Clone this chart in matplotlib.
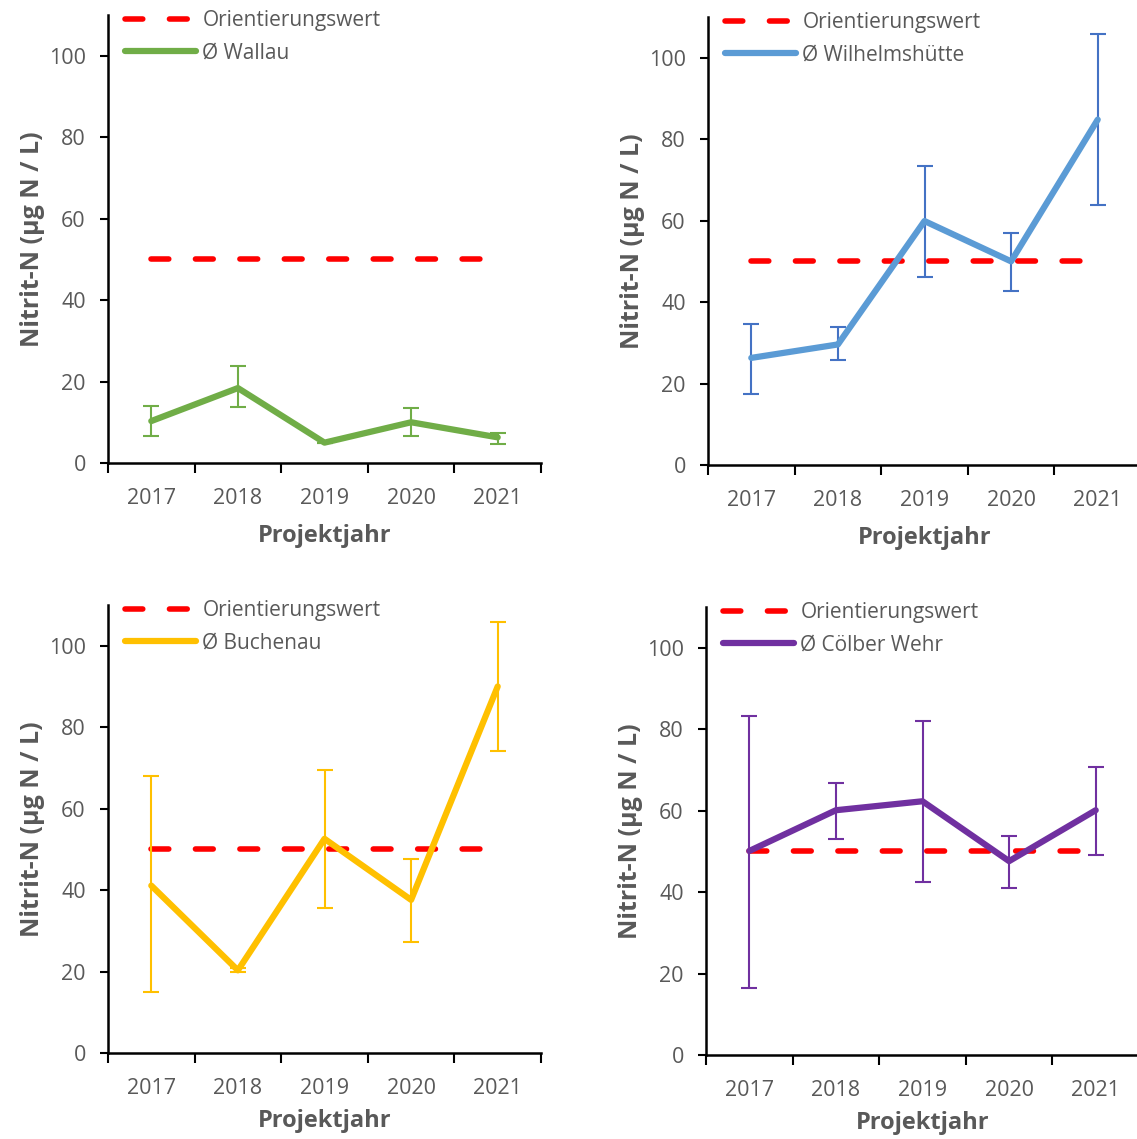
import numpy as np
import matplotlib.pyplot as plt

plt.rcParams['font.family'] = ['Open Sans', 'DejaVu Sans']

years = ['2017', '2018', '2019', '2020', '2021']
orientierungswert = 50

wallau = [10.3, 18.4, 5.0, 10.0, 6.3]
wallau_lo = [6.6, 13.8, 5.0, 6.6, 4.7]
wallau_hi = [14.0, 23.7, 5.0, 13.4, 7.4]

wilhelm = [26.3, 29.6, 59.9, 50.0, 84.8]
wilhelm_lo = [17.5, 25.7, 46.2, 42.8, 63.9]
wilhelm_hi = [34.6, 33.9, 73.4, 56.9, 105.9]

buchenau = [41.1, 20.3, 52.6, 37.6, 90.0]
buchenau_lo = [14.9, 19.8, 35.5, 27.2, 74.1]
buchenau_hi = [68.0, 20.8, 69.4, 47.7, 105.8]

coelbe = [50.1, 60.1, 62.3, 47.6, 60.1]
coelbe_lo = [16.5, 53.1, 42.5, 41.1, 49.2]
coelbe_hi = [83.3, 66.8, 82.0, 53.8, 70.7]

panels = [
    ('Ø Wallau', wallau, wallau_lo, wallau_hi, '#70AD47', '#70AD47', [108, 463]),
    ('Ø Wilhelmshütte', wilhelm, wilhelm_lo, wilhelm_hi, '#5B9BD5', '#4472C4', [708, 465]),
    ('Ø Buchenau', buchenau, buchenau_lo, buchenau_hi, '#FFC000', '#FFC000', [108, 1053]),
    ('Ø Cölber Wehr', coelbe, coelbe_lo, coelbe_hi, '#7030A0', '#7030A0', [706, 1055]),
]

W, H = 1137, 1139
grey = '#595959'
fig = plt.figure(figsize=(W / 100, H / 100), dpi=100)

for name, vals, lo, hi, col, ecol, (px, py) in panels:
    ax = fig.add_axes([px / W, 1 - py / H, 433 / W, 448 / H])
    x = np.arange(len(years))
    vals = np.array(vals)
    yerr = [vals - np.array(lo), np.array(hi) - vals]
    ax.plot(x, [orientierungswert] * len(x), color='#FF0000', lw=4,
            dashes=(3.2, 4.8), dash_capstyle='round', label='Orientierungswert')
    ax.errorbar(x, vals, yerr=yerr, fmt='none', ecolor=ecol, elinewidth=1.5,
                capsize=6, capthick=1.5)
    ax.plot(x, vals, color=col, lw=4.5, solid_capstyle='round',
            solid_joinstyle='round', label=name)

    ax.set_xlim(-0.5, 4.5)
    ax.set_ylim(0, 110)
    ax.set_yticks(range(0, 101, 20))
    ax.set_xticks(np.arange(-0.5, 4.6, 1))
    ax.set_xticklabels([])
    ax.set_xticks(x, minor=True)
    ax.set_xticklabels(years, minor=True)
    ax.tick_params(axis='x', which='major', length=7, width=1.5, direction='out')
    ax.tick_params(axis='x', which='minor', length=0, pad=18, labelsize=15.5,
                   labelcolor=grey)
    ax.tick_params(axis='y', length=6, width=1.5, labelsize=15.5,
                   labelcolor=grey, pad=10)
    for s in ['top', 'right']:
        ax.spines[s].set_visible(False)
    for s in ['left', 'bottom']:
        ax.spines[s].set_linewidth(1.8)
    ax.set_ylabel('Nitrit-N (µg N / L)', fontsize=18, fontweight='bold',
                  color=grey, labelpad=3)
    ax.set_xlabel('Projektjahr', fontsize=17, fontweight='bold',
                  color=grey, labelpad=11 if py < 600 else 7)
    leg = ax.legend(loc='upper left', bbox_to_anchor=(0.04, 1.011),
                    frameon=False, fontsize=15, handlelength=3.4,
                    handletextpad=0.3, borderpad=0, borderaxespad=0,
                    labelspacing=0.55)
    for t in leg.get_texts():
        t.set_color(grey)

fig.savefig('out.png', dpi=100)
